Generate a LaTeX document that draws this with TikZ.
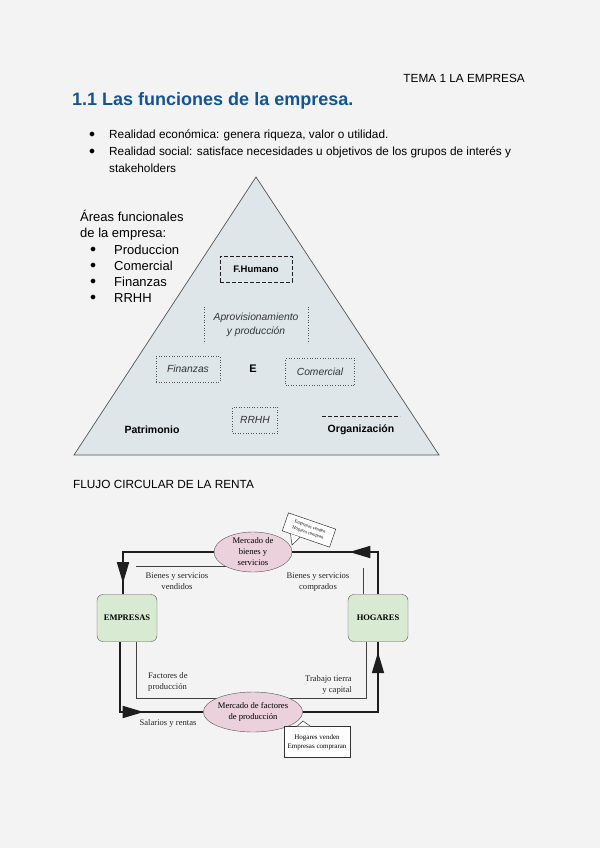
\documentclass[tikz,border=0pt]{standalone}
\usepackage{fontspec}
\setmainfont{Liberation Sans}
\newfontfamily\serifx{Liberation Serif}
\usetikzlibrary{decorations.markings,arrows.meta,shapes.geometric,calc}
\pgfdeclarelayer{bg}
\pgfdeclarelayer{lines}
\pgfsetlayers{bg,lines,main}
\definecolor{pagebg}{RGB}{243,243,243}
\definecolor{titleblue}{RGB}{20,84,150}
\definecolor{trifill}{RGB}{222,230,234}
\definecolor{boxgreen}{RGB}{217,234,211}
\definecolor{ellpink}{RGB}{234,209,220}
\definecolor{edgegray}{RGB}{85,85,85}
\definecolor{inkdark}{RGB}{30,30,30}
\newcommand{\fsz}[2]{\fontsize{#1}{#2}\selectfont}
\tikzset{
  bodytxt/.style={anchor=west,inner sep=0pt,font=\fsz{11.8}{14}},
  tritxt/.style={inner sep=0pt,font=\fsz{10.5}{14}\bfseries},
  itxt/.style={inner sep=0pt,align=center,font=\fsz{10.3}{14}\itshape,text=black!80},
  dotbox/.style={draw=edgegray,dotted,line width=0.6pt},
  dashbox/.style={draw=inkdark,dash pattern=on 4pt off 2pt,line width=0.8pt},
  agent/.style={draw=edgegray,fill=boxgreen,rounded corners=6pt,minimum width=60pt,minimum height=47pt,inner sep=0pt,font=\serifx\fsz{8.5}{10}\bfseries},
  market/.style={ellipse,draw=edgegray,fill=ellpink,minimum width=78pt,minimum height=40pt,inner sep=0pt,align=center,font=\serifx\fsz{8.6}{11}},
  flowlbl/.style={inner sep=0pt,font=\serifx\fsz{8.6}{11},text=black!85},
  thickflow/.style={draw=inkdark,line width=1.7pt},
  thinflow/.style={draw=black!75,line width=0.7pt},
  tipat/.style={postaction={decorate,decoration={markings,mark=at position #1 with {\arrow{Triangle[length=21pt,width=12pt]}}}}},
  callbox/.style={draw=black!80,fill=white,line width=0.5pt,inner sep=1pt,align=center,font=\serifx\fsz{7}{9}}
}
\begin{document}
\begin{tikzpicture}[x=1pt,y=-1pt]
\useasboundingbox (0,0) rectangle (600,848);
\begin{pgfonlayer}{bg}
\fill[pagebg] (0,0) rectangle (600,848);
\end{pgfonlayer}

% header
\node[anchor=east,inner sep=0pt,font=\fsz{11.8}{14}] (tema) at (525,78) {TEMA 1 LA EMPRESA};
\node[anchor=west,inner sep=0pt,font=\fsz{18}{22}\bfseries,text=titleblue] (title) at (72,101) {1.1 Las funciones de la empresa.};
\node[inner sep=0pt,font=\fsz{11.8}{14}] (b1) at (92,135) {$\bullet$};
\node[bodytxt] (r1) at (109,135) {Realidad económica: genera riqueza, valor o utilidad.};
\node[inner sep=0pt,font=\fsz{11.8}{14}] (b2) at (92,152) {$\bullet$};
\node[bodytxt] (r2) at (109,152) {Realidad social: satisface necesidades u objetivos de los grupos de interés y};
\node[bodytxt] (r3) at (109,168) {stakeholders};

% triangle
\draw[draw=edgegray,fill=trifill,line width=0.7pt] (256,177) -- (439,455) -- (74,455) -- cycle;

% areas text
\node[anchor=west,inner sep=0pt,align=left,font=\fsz{13}{16}] (areas) at (80,225) {Áreas funcionales\\de la empresa:};
\foreach \t/\yy in {Produccion/250,Comercial/266,Finanzas/282,RRHH/298}{
  \node[inner sep=0pt,font=\fsz{13}{16}] at (93,\yy) {$\bullet$};
  \node[anchor=west,inner sep=0pt,font=\fsz{13}{16}] at (114,\yy) {\t};
}

% inner boxes
\node[dashbox,minimum width=72pt,minimum height=26pt,inner sep=0pt,font=\fsz{9.5}{12}\bfseries] (fh) at (256,269) {F.Humano};
\node[minimum width=104pt,minimum height=36pt,inner sep=0pt,align=center,font=\fsz{10.3}{14}\itshape,text=black!80] (ap) at (256,325) {Aprovisionamiento\\y producción};
\draw[dotbox] (ap.north west) -- (ap.south west) (ap.north east) -- (ap.south east);
\node[dotbox,minimum width=64pt,minimum height=26pt,itxt] (fi) at (188,369) {Finanzas};
\node[tritxt,font=\fsz{11}{14}\bfseries] (e) at (253,369) {E};
\node[dotbox,minimum width=69pt,minimum height=27pt,itxt] (co) at (320,372) {Comercial};
\node[dotbox,minimum width=45pt,minimum height=26pt,itxt] (rh) at (255,420) {RRHH};
\node[tritxt] (pa) at (152,430) {Patrimonio};
\node[tritxt] (org) at (361,430) {Organización};
\coordinate (dl1) at (322,416);
\coordinate (dl2) at (400,416);
\draw[dashbox] (dl1) -- (dl2);

% flow
\node[anchor=west,inner sep=0pt,font=\fsz{11.8}{14}] (flujo) at (73,484) {FLUJO CIRCULAR DE LA RENTA};

\node[agent] (emp) at (127,618) {EMPRESAS};
\node[agent] (hog) at (378,618) {HOGARES};
\node[market] (mb) at (253,552) {Mercado de\\bienes y\\servicios};
\node[market] (mf) at (253,712) {Mercado de factores\\de producción};

\coordinate (t1) at (136,566);
\coordinate (t2) at (363,568);
\begin{pgfonlayer}{lines}
\draw[thickflow,tipat=71pt] (hog.north) |- (mb.east);
\draw[thickflow,tipat=122pt] (mb.west) -| ([xshift=-4pt]emp.north);
\draw[thickflow,tipat=94pt] ([xshift=-7pt]emp.south) |- (mf.west);
\draw[thickflow,tipat=135pt] (mf.east) -| (hog.south);
\draw[thinflow] (t1) -- (t1 -| mb);
\draw[thinflow] (t2) -- (t2 |- hog.north);
\draw[thinflow] ([xshift=9pt]emp.south) -- ++(0,57) -| ([xshift=-12pt]hog.south);
\end{pgfonlayer}

\node[flowlbl,align=center] (lbv) at (177,581) {Bienes y servicios\\vendidos};
\node[flowlbl,align=center] (lbc) at (318,582) {Bienes y servicios\\comprados};
\node[flowlbl,align=left,anchor=west] (lfp) at (148,682) {Factores de\\producción};
\node[flowlbl,align=right,anchor=east] (ltc) at (352,685) {Trabajo tierra\\y capital};
\node[flowlbl] (lsr) at (168,723) {Salarios y rentas};

% callouts
\node[callbox,minimum width=50pt,minimum height=19pt,rotate=-19,font=\serifx\fsz{4.6}{6.2}] (cb1) at (309,530) {Empresas venden\\Hogares compran};
\coordinate (p1) at (292,545);
\fill[white] ($(cb1.south west)!0.18!(cb1.south east)$) -- (p1) -- ($(cb1.south west)!0.38!(cb1.south east)$) -- cycle;
\draw[black!80,line width=0.5pt] ($(cb1.south west)!0.18!(cb1.south east)$) -- (p1) -- ($(cb1.south west)!0.38!(cb1.south east)$);

\node[callbox,minimum width=66pt,minimum height=31pt] (cb2) at (317,742) {Hogares venden\\Empresas compraran};
\coordinate (p2) at (303,721);
\fill[white] ($(cb2.north west)!0.2!(cb2.north east)$) -- (p2) -- ($(cb2.north west)!0.4!(cb2.north east)$) -- cycle;
\draw[black!80,line width=0.5pt] ($(cb2.north west)!0.2!(cb2.north east)$) -- (p2) -- ($(cb2.north west)!0.4!(cb2.north east)$);
\end{tikzpicture}
\end{document}
